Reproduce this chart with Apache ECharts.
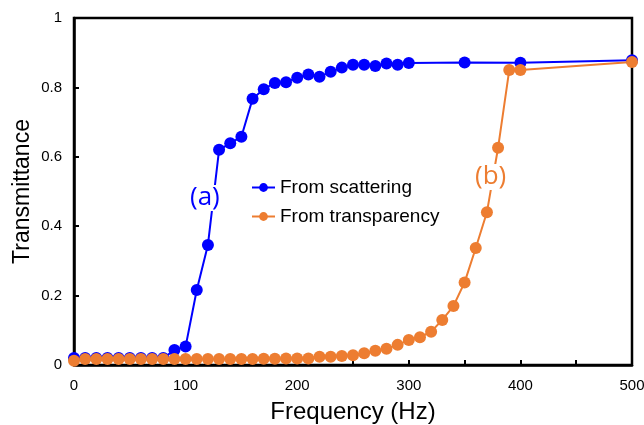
<!DOCTYPE html>
<html><head><meta charset="utf-8">
<script src="https://cdn.jsdelivr.net/npm/echarts@6/dist/echarts.min.js"></script>
<style>html,body{margin:0;padding:0;background:#fff}#c{width:644px;height:425px}</style>
</head><body><div id="c"></div>
<script>
const scatterFreq = [0,10,20,30,40,50,60,70,80,90,100,110,120,130,140,150,160,170,180,190,200,210,220,230,240,250,260,270,280,290,300,350,400,500];
const scatterT = [0.02,0.02,0.02,0.02,0.02,0.02,0.02,0.02,0.02,0.043,0.053,0.216,0.346,0.62,0.639,0.658,0.767,0.795,0.813,0.815,0.828,0.837,0.831,0.845,0.857,0.865,0.865,0.862,0.869,0.865,0.870,0.872,0.871,0.878];
const transFreq = [0,10,20,30,40,50,60,70,80,90,100,110,120,130,140,150,160,170,180,190,200,210,220,230,240,250,260,270,280,290,300,310,320,330,340,350,360,370,380,390,400,500];
const transT = [0.012,0.017,0.017,0.017,0.017,0.017,0.017,0.017,0.017,0.017,0.017,0.017,0.017,0.017,0.017,0.017,0.017,0.018,0.018,0.019,0.019,0.019,0.024,0.024,0.026,0.028,0.034,0.041,0.047,0.058,0.072,0.08,0.096,0.13,0.17,0.238,0.337,0.44,0.626,0.85,0.85,0.873];
const xTicks = [0,100,200,300,400,500];
const yTicks = ['0','0.2','0.4','0.6','0.8','1'];
const seriesNames = ['From scattering','From transparency'];

const zip = (a,b)=>a.map((v,i)=>[v,b[i]]);
const chart = echarts.init(document.getElementById('c'));
const font = 'Liberation Sans, Arial, sans-serif';
chart.setOption({
  animation:false,
  grid:{left:74,right:12,top:18,bottom:60,show:true,borderColor:'#000',borderWidth:2.5,outerBoundsMode:'none',containLabel:false},
  xAxis:{type:'value',min:0,max:500,interval:50,
    name:'Frequency (Hz)',nameLocation:'middle',nameGap:35,
    nameTextStyle:{fontFamily:font,fontSize:24,color:'#000'},
    axisLine:{show:true,lineStyle:{color:'#000',width:2.5}},
    axisTick:{show:true,inside:true,length:5,lineStyle:{color:'#000',width:2}},
    axisLabel:{fontFamily:font,fontSize:15,color:'#000',margin:13,
      formatter:v=>xTicks.includes(v)?String(v):''},
    splitLine:{show:false}},
  yAxis:{type:'value',min:0,max:1,interval:0.2,
    name:'Transmittance',nameLocation:'middle',nameGap:40,nameMoveOverlap:false,
    nameTextStyle:{fontFamily:font,fontSize:23,color:'#000'},
    axisLine:{show:true,lineStyle:{color:'#000',width:2.5}},
    axisTick:{show:true,inside:true,length:5,lineStyle:{color:'#000',width:2}},
    axisLabel:{fontFamily:font,fontSize:15,color:'#000',margin:12,
      formatter:(v)=>yTicks[Math.round(v/0.2)]},
    splitLine:{show:false}},
  legend:{orient:'vertical',left:246,top:173,itemGap:10,itemWidth:23,itemHeight:11,
    textStyle:{fontFamily:font,fontSize:19,color:'#000'},
    data:seriesNames},
  series:[
    {name:seriesNames[0],type:'line',data:zip(scatterFreq,scatterT),symbol:'circle',symbolSize:12,
      color:'#0000FF',lineStyle:{width:2,color:'#0000FF'},itemStyle:{color:'#0000FF'}},
    {name:seriesNames[1],type:'line',data:zip(transFreq,transT),symbol:'circle',symbolSize:12,
      color:'#ED7D31',lineStyle:{width:2,color:'#ED7D31'},itemStyle:{color:'#ED7D31'}}
  ],
  graphic:[
    {type:'text',z:100,left:189,top:185,style:{text:'(a)',fill:'#0000FF',font:'26px "Open Sans", sans-serif',backgroundColor:'#fff',padding:[0,1]}},
    {type:'text',z:100,left:474,top:164,style:{text:'(b)',fill:'#ED7D31',font:'26px "Open Sans", sans-serif',backgroundColor:'#fff',padding:[0,1]}}
  ]
});
</script></body></html>
